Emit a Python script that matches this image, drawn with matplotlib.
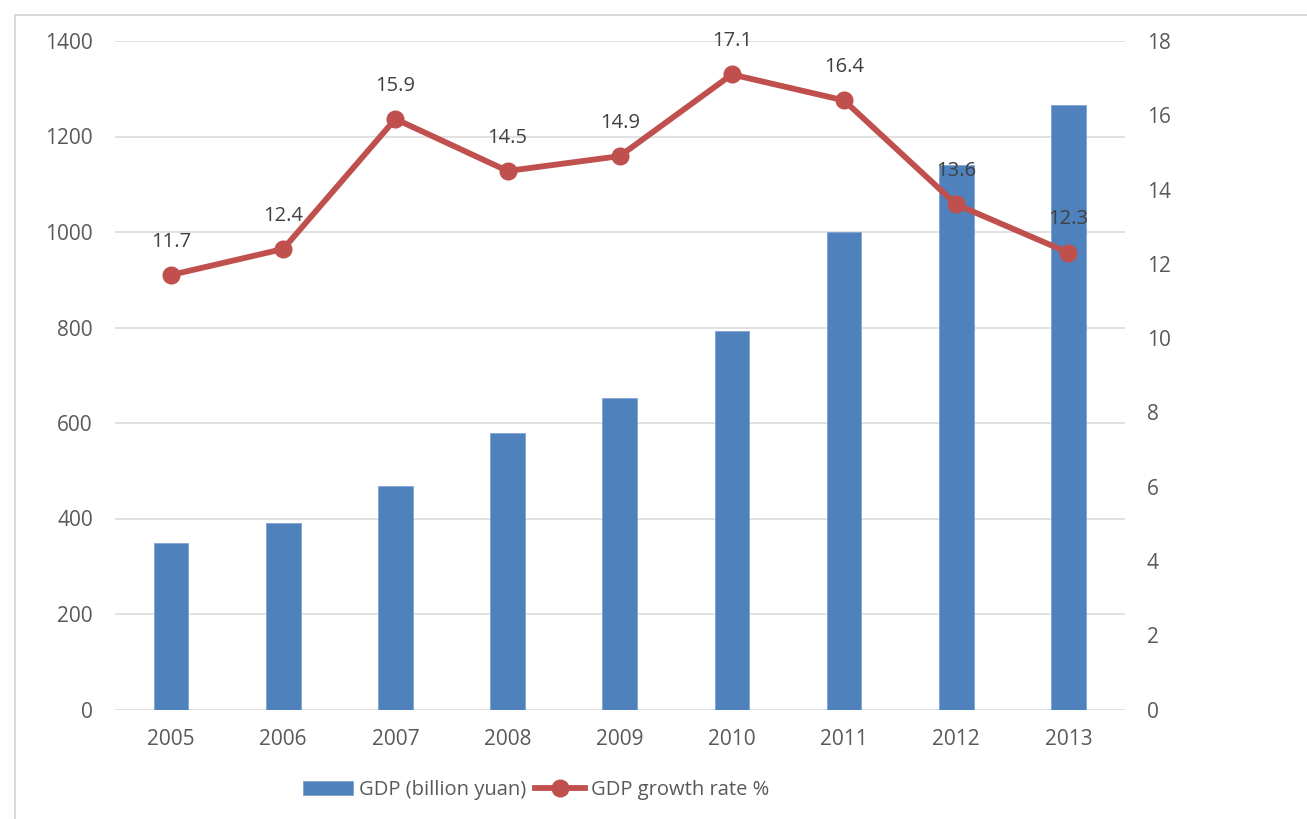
import numpy as np
import matplotlib
matplotlib.use("Agg")
import matplotlib.pyplot as plt
from matplotlib.patches import Rectangle

# ── data ──────────────────────────────────────────────────────────────────
years = ["2005", "2006", "2007", "2008", "2009", "2010", "2011", "2012", "2013"]
gdp = [348, 391, 468, 580, 653, 792, 1000, 1141, 1265]          # billion yuan
growth = [11.7, 12.4, 15.9, 14.5, 14.9, 17.1, 16.4, 13.6, 12.3]   # percent

BLUE = "#4F81BD"
RED = "#C0504D"
GRID = "#D9D9D9"
TICK = "#595959"
LABEL = "#404040"

plt.rcParams["font.family"] = ["Open Sans", "DejaVu Sans"]

W, H = 1307, 819
fig = plt.figure(figsize=(W / 100, H / 100), dpi=100)

# chart border (runs off the right and bottom edges)
fig.patches.append(Rectangle((15 / W, -0.1), 2.0, (H - 15) / H + 0.1,
                             transform=fig.transFigure, fill=False,
                             edgecolor=GRID, linewidth=1.4, clip_on=False))

ax = fig.add_axes([115 / W, 109.5 / H, (1124.5 - 115) / W, (778 - 109.5) / H])
ax2 = ax.twinx()

x = np.arange(len(years))
ax.bar(x, gdp, width=0.31, color=BLUE, edgecolor="#7FA3D1", linewidth=0.6,
       zorder=2, label="GDP (billion yuan)")
ax.set_xlim(-0.5, len(years) - 0.5)
ax.set_ylim(0, 1400)
ax.set_yticks(range(0, 1401, 200))
ax.set_xticks(x)
ax.set_xticklabels(years)
ax.yaxis.grid(True, color=GRID, linewidth=1.1)
ax.set_axisbelow(True)

ax2.plot(x, growth, "-o", color=RED, linewidth=4.2, markersize=12,
         zorder=3, label="GDP growth rate %")
ax2.set_ylim(0, 18)
ax2.set_yticks(range(0, 19, 2))
for xi, g in zip(x, growth):
    ax2.annotate(f"{g:.1f}", (xi, g), textcoords="offset points",
                 xytext=(0, 24), ha="center", va="center",
                 fontsize=14.5, color=LABEL)

for a in (ax, ax2):
    for s in a.spines.values():
        s.set_visible(False)
    a.tick_params(length=0, labelsize=15, labelcolor=TICK)
ax.tick_params(axis="y", pad=16)
ax.tick_params(axis="x", pad=14)
ax2.yaxis.set_tick_params(which="both", pad=16)

h1, l1 = ax.get_legend_handles_labels()
h2, l2 = ax2.get_legend_handles_labels()
fig.legend(h1 + h2, l1 + l2, loc="center", bbox_to_anchor=(536 / W, 1 - 790 / H),
           ncol=2, frameon=False, fontsize=14.5, labelcolor=TICK,
           handlelength=2.5, handleheight=0.7, handletextpad=0.3,
           columnspacing=0.4)

fig.savefig("out.png", dpi=100)
